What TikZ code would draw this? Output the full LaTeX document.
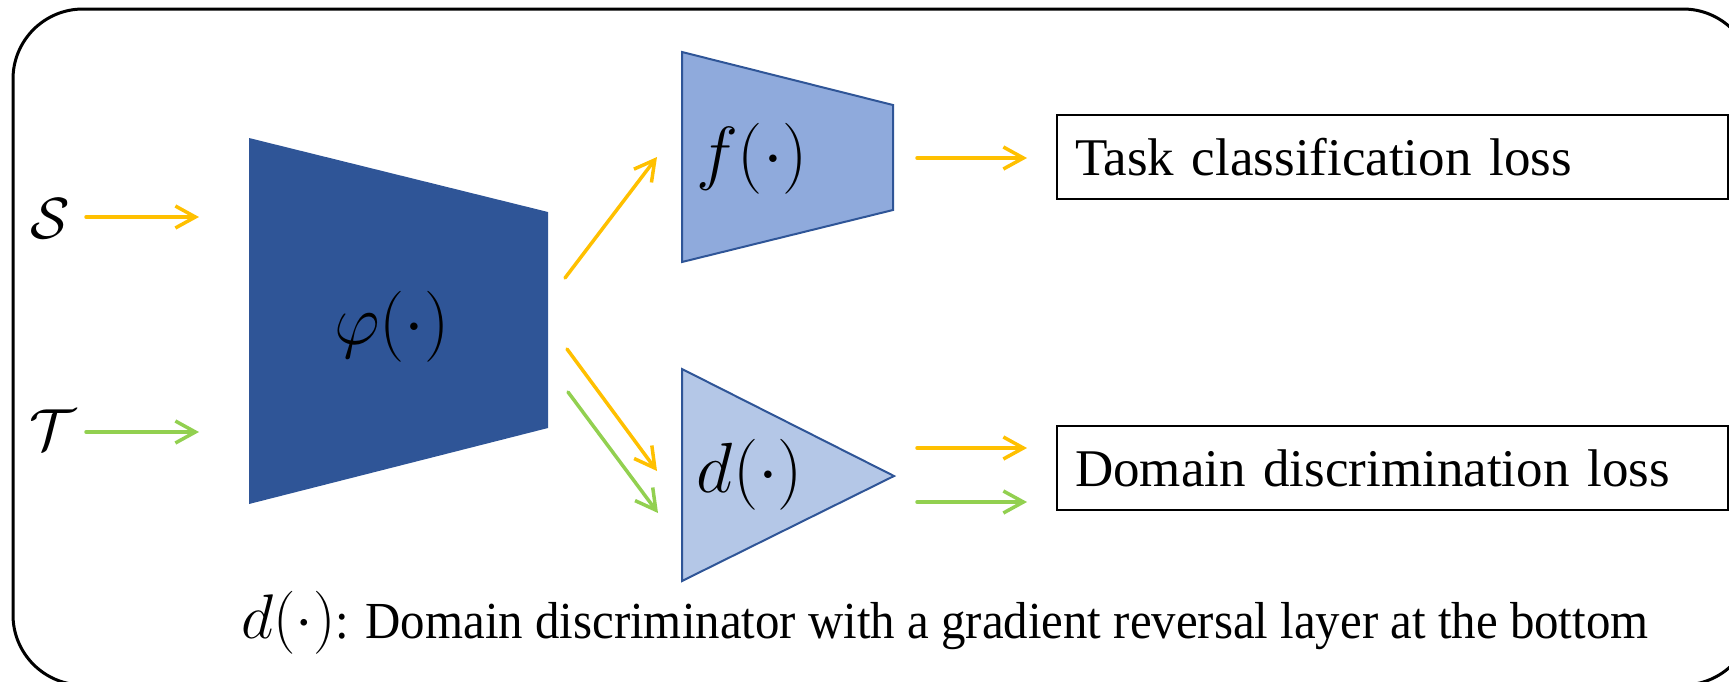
\RequirePackage{fix-cm}
\documentclass[tikz,border=0pt]{standalone}
\usepackage{fontspec}
\setmainfont{Liberation Serif}
\newfontfamily\notefont[FakeStretch=0.94]{Liberation Serif}
\usetikzlibrary{arrows.meta}

\definecolor{srcorange}{HTML}{FFC000}
\definecolor{tgtgreen}{HTML}{92D050}
\definecolor{featblue}{HTML}{2F5597}
\definecolor{clsblue}{HTML}{8FAADC}
\definecolor{domblue}{HTML}{B4C7E7}

\begin{document}
\begin{tikzpicture}[
    x=1pt, y=-1pt,  % 像素坐标，y 向下
    every node/.append style={font=\rmfamily},
    srcflow/.style={draw=srcorange, line width=3.5pt, line cap=round, -{Straight Barb[length=20pt,width=22pt]}},
    tgtflow/.style={draw=tgtgreen, line width=3.5pt, line cap=round, -{Straight Barb[length=20pt,width=22pt]}},
    netlabel/.style={inner sep=0pt, font=\fontsize{71}{84}\selectfont},
    domlabel/.style={inner sep=0pt, font=\fontsize{58}{68}\selectfont},
    lossbox/.style={draw, line width=2pt, anchor=west, minimum height=84pt, inner xsep=18pt, text width=635pt, align=left, font=\fontsize{53}{64}\selectfont},
]

\useasboundingbox (0,0) rectangle (1729,681);
\clip (0,0) rectangle (1729,681);
\draw[line width=3pt, rounded corners=70pt] (13,9) rectangle (1753,685);

% networks
\fill[featblue] (249,138) -- (548,212) -- (548,428) -- (249,504) -- cycle;
\filldraw[fill=clsblue, draw=featblue, line width=2pt] (682,52) -- (893,105) -- (893,210) -- (682,262) -- cycle;
\filldraw[fill=domblue, draw=featblue, line width=2pt] (682,369) -- (894,476) -- (682,581) -- cycle;

\node[netlabel] (phi) at (392,327) {$\varphi(\cdot)$};
\node[netlabel] (f) at (752,159) {$f(\cdot)$};
\node[netlabel] (d) at (750,475) {$d(\cdot)$};

\node[domlabel] (S) at (50,219) {$\mathcal{S}$};
\node[domlabel] (T) at (53,430) {$\mathcal{T}$};

\node[lossbox] (task) at (1056,157) {Task classification loss};
\node[lossbox] (dom) at (1056,468) {Domain discrimination loss};

\node[inner sep=0pt, font=\notefont\fontsize{52}{62}\selectfont] (note) at (945,623)
    {{\fontsize{63}{72}\selectfont$d(\cdot)$}: Domain discriminator with a gradient reversal layer at the bottom};

% flow ends
\coordinate (s0) at (86,217);   \coordinate (s1) at (199,217);
\coordinate (t0) at (86,432);   \coordinate (t1) at (199,432);
\coordinate (pf0) at (565,278); \coordinate (pf1) at (657,157);
\coordinate (ps0) at (567,349); \coordinate (ps1) at (657,471);
\coordinate (pt0) at (568,392); \coordinate (pt1) at (658,513);
\coordinate (fo0) at (917,158); \coordinate (fo1) at (1027,158);
\coordinate (ds0) at (917,448); \coordinate (ds1) at (1027,448);
\coordinate (dt0) at (917,502); \coordinate (dt1) at (1027,502);

\draw[srcflow] (s0) -- (s1);
\draw[tgtflow] (t0) -- (t1);
\draw[srcflow] (pf0) -- (pf1);
\draw[srcflow] (ps0) -- (ps1);
\draw[tgtflow] (pt0) -- (pt1);
\draw[srcflow] (fo0) -- (fo1);
\draw[srcflow] (ds0) -- (ds1);
\draw[tgtflow] (dt0) -- (dt1);

\end{tikzpicture}
\end{document}
